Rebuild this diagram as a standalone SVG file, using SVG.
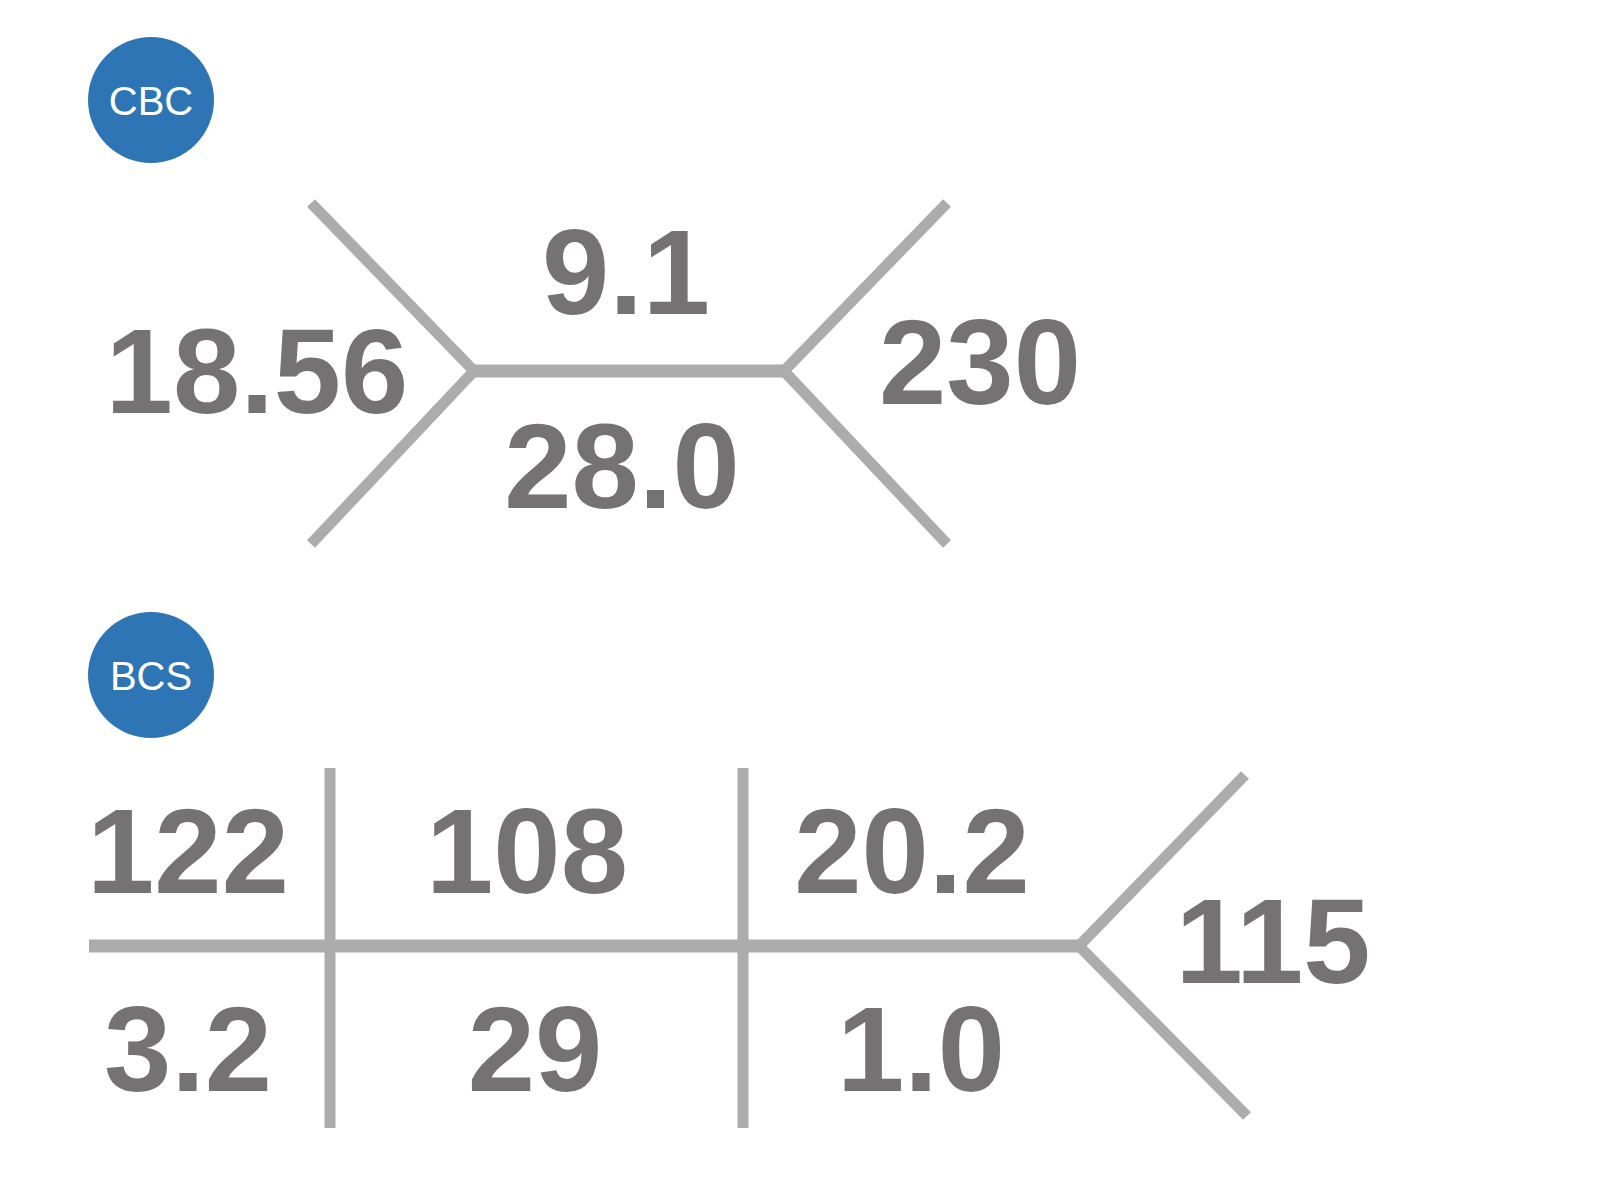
<svg xmlns="http://www.w3.org/2000/svg" width="1600" height="1200" viewBox="0 0 1600 1200">
<style>
.bg{fill:#ffffff}
.badge{fill:#2e75b6}
.badgetxt{font-family:"Liberation Sans",Arial,sans-serif;font-size:40px;fill:#ffffff;text-anchor:middle}
.num{font-family:"Liberation Sans",Arial,sans-serif;font-weight:bold;font-size:121px;fill:#747272;text-anchor:middle}
.ln{stroke:#adacac;fill:none;stroke-linecap:butt;stroke-linejoin:miter}
.thick{stroke-width:13}
.thin{stroke-width:11}
</style>
<rect class="bg" x="0" y="0" width="1600" height="1200"/>
<g id="connectors">
  <polyline class="ln thin" points="311,203 474,371 311,544"/>
  <line class="ln thick" x1="474" y1="371" x2="784" y2="371"/>
  <polyline class="ln thin" points="947,203 784,371 947,544"/>
  <line class="ln thick" x1="89" y1="946" x2="1079" y2="946"/>
  <line class="ln thin" x1="330" y1="768" x2="330" y2="1128"/>
  <line class="ln thin" x1="743" y1="768" x2="743" y2="1128"/>
  <polyline class="ln thin" points="1245,775 1079,946 1247,1116"/>
</g>
<g id="node-cbc">
  <circle class="badge" cx="151" cy="100" r="63"/>
  <text class="badgetxt" x="151" y="115">CBC</text>
</g>
<g id="node-bcs">
  <circle class="badge" cx="151" cy="675" r="63"/>
  <text class="badgetxt" x="151" y="690">BCS</text>
</g>
<g id="cbc-values">
  <text class="num" x="257" y="413">18.56</text>
  <text class="num" x="626" y="314">9.1</text>
  <text class="num" x="622" y="508">28.0</text>
  <text class="num" x="980" y="404">230</text>
</g>
<g id="bcs-values">
  <text class="num" x="188" y="893">122</text>
  <text class="num" x="527" y="893">108</text>
  <text class="num" x="912" y="893">20.2</text>
  <text class="num" x="188" y="1091">3.2</text>
  <text class="num" x="535" y="1091">29</text>
  <text class="num" x="921" y="1091">1.0</text>
  <text class="num" x="1273" y="983">115</text>
</g>
</svg>
